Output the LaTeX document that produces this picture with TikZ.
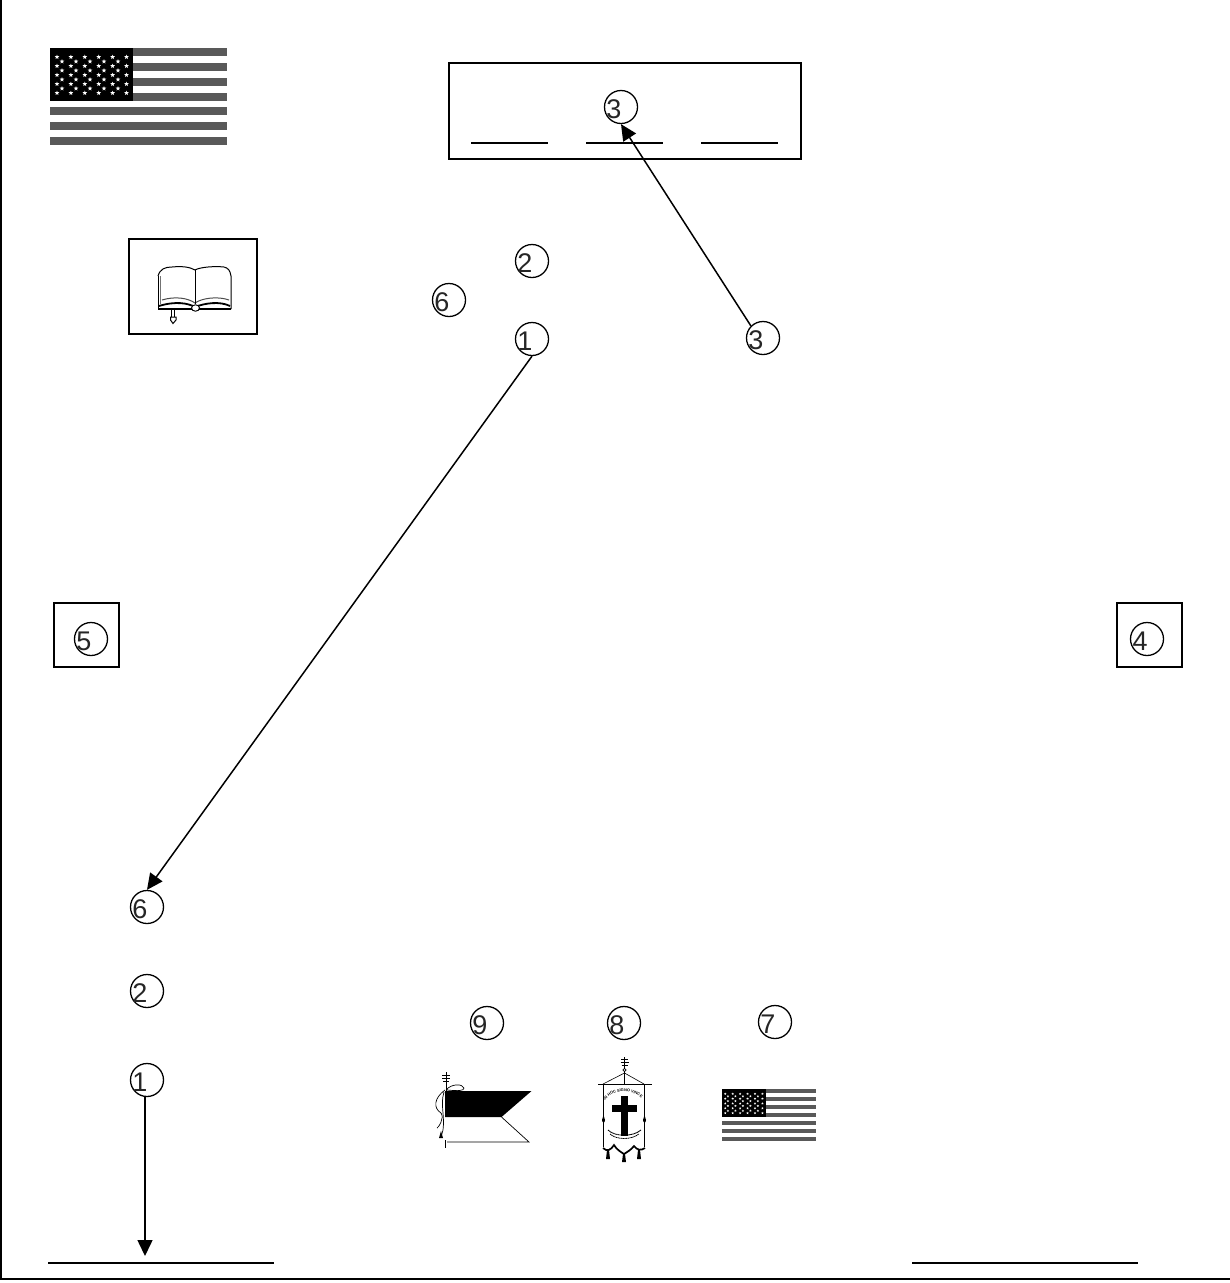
\documentclass[tikz,border=0pt]{standalone}
\usepackage{fontspec}
\setmainfont{Liberation Sans}
\usetikzlibrary{arrows.meta,decorations.text}
\tikzset{
  x=1pt,y=-1pt,
  rule/.style={line width=1.7pt,black},
  box/.style={draw=black,line width=1.8pt,fill=none},
  callout/.style={circle,draw=black,line width=1.3pt,minimum size=33pt,inner sep=0pt,fill=none},
  digit/.style={font=\fontsize{27}{27}\selectfont,inner sep=0pt,text=black!85},
  conn/.style={line width=1.5pt,black,-{Triangle[length=16pt,width=15pt]}},
  stripe/.style={fill=black!65,draw=none},
}
% callout: circle with its digit set to the left of centre
\newcommand{\callout}[4]{%
  \node[callout] (#1) at (#2,#3) {};
  \node[digit] (#1d) at (#2-7,#3+2) {#4};
}
% a small five-pointed star
\newcommand{\flagstar}[2]{%
  \fill[white] (#1,#2-2.4) -- (#1+0.6,#2-0.8) -- (#1+2.3,#2-0.8) -- (#1+1,#2+0.3) -- (#1+1.4,#2+2)
    -- (#1,#2+1) -- (#1-1.4,#2+2) -- (#1-1,#2+0.3) -- (#1-2.3,#2-0.8) -- (#1-0.6,#2-0.8) -- cycle;
}
% US flag, drawn in a 177 x 97 box with the origin at top left
\newcommand{\usflag}[3]{%
  \begin{scope}[shift={(#1,#2)},scale=#3]
    \foreach \yy in {0,15,30,45,59,74,89}{
      \fill[stripe] (0,\yy) rectangle (177,\yy+8);
    }
    \fill[black] (0,0) rectangle (83,53);
    \foreach \row in {0,...,8}{
      \pgfmathtruncatemacro{\odd}{mod(\row,2)}
      \pgfmathsetmacro{\sy}{9+\row*4.5}
      \ifnum\odd=0
        \foreach \k in {0,...,5}{
          \pgfmathsetmacro{\sx}{7+\k*13.9}
          \flagstar{\sx}{\sy}
        }
      \else
        \foreach \k in {0,...,4}{
          \pgfmathsetmacro{\sx}{12+\k*14}
          \flagstar{\sx}{\sy}
        }
      \fi
    }
  \end{scope}
}
\begin{document}
\begin{tikzpicture}
\useasboundingbox (0,0) rectangle (1230,1283);
\fill[white] (0,0) rectangle (1230,1283);
% page frame
\coordinate (ftl) at (1,0);
\coordinate (fbl) at (1,1278.5);
\coordinate (fbr) at (1230,1278.5);
\draw[line width=2pt] (ftl) -- (fbl) -- (fbr);
% flags
\usflag{50}{48}{1}
\usflag{721.5}{1089}{0.535}
% title box
\node[box,minimum width=352pt,minimum height=96pt,inner sep=0pt] (titlebox) at (625,111) {};
\coordinate (a1) at (471,143); \coordinate (a2) at (548,143);
\coordinate (b1) at (586,143); \coordinate (b2) at (663,143);
\coordinate (c1) at (701,143); \coordinate (c2) at (778,143);
\draw[rule] (a1) -- (a2); \draw[rule] (b1) -- (b2); \draw[rule] (c1) -- (c2);
% book box
\node[box,minimum width=128pt,minimum height=95pt,inner sep=0pt] (bookbox) at (193,286.5) {};
\begin{scope}[line width=1pt,black]
  \draw (158,276) .. controls (160,269) and (165,267) .. (172,267)
        .. controls (182,266) and (190,267) .. (195,270)
        .. controls (200,267) and (215,266) .. (224,267)
        .. controls (228,268) and (230,270) .. (231,276) -- (231,309);
  \draw (158,276) -- (158,309);
  \draw[line width=1.6pt] (158,309) -- (231,309);
  \draw[black!55] (160,276) -- (160,304);
  \draw[black!70] (162,300) .. controls (175,296) and (188,298) .. (195,303)
        .. controls (202,298) and (218,296) .. (229,300);
  \draw (195,270) -- (195,304);
  \draw[line width=1.8pt] (159,306) .. controls (175,301) and (188,303) .. (195,307)
        .. controls (205,303) and (220,301) .. (230,306);
  \draw[fill=white] (195.5,308) ellipse[x radius=4,y radius=3.2];
  \draw (171.5,308) -- (171.5,317) (174.5,308) -- (174.5,317);
  \draw[fill=white] (170.5,317) -- (176,317) -- (176,320) -- (173,323.5) -- (170.5,320) -- cycle;
\end{scope}
% small side boxes
\node[box,minimum width=65pt,minimum height=64pt,inner sep=0pt] (leftbox) at (86.5,635) {};
\node[box,minimum width=65pt,minimum height=64pt,inner sep=0pt] (rightbox) at (1149.5,635) {};
% callouts
\callout{ca}{621}{107}{3}
\callout{cb}{532}{261}{2}
\callout{cc}{449}{300}{6}
\callout{cd}{532}{339}{1}
\callout{ce}{763}{338}{3}
\callout{cf}{91}{639}{5}
\callout{cg}{1147}{639}{4}
\callout{ch}{147}{907}{6}
\callout{ci}{147}{991}{2}
\callout{cj}{147}{1080}{1}
\callout{ck}{487}{1023}{9}
\callout{cl}{624}{1023}{8}
\callout{cm}{775}{1022}{7}
% bottom rules
\coordinate (l1) at (48,1263); \coordinate (l2) at (274,1263);
\coordinate (r1) at (912,1263); \coordinate (r2) at (1138,1263);
\draw[rule] (l1) -- (l2); \draw[rule] (r1) -- (r2);
\coordinate (target) at (145,1256);
% connectors
\draw[conn] (ce.north west) -- (ca.south);
\draw[conn] (cd.south) -- (ch.north);
\draw[conn] (cj.south -| target) -- (target);
% pennant
\fill[black] (445,1091) -- (531.5,1091) -- (501.5,1117) -- (445,1117) -- cycle;
\begin{scope}[line width=0.7pt,black]
  \draw (501.5,1117) -- (529,1142) -- (447,1142);
  \draw[line width=1.5pt] (445.5,1140) -- (445.5,1148);
  \draw (446,1072) -- (446,1091);
  \draw (442,1075) -- (450,1075) (442,1078) -- (450,1078) (443,1081) -- (449,1081);
  \draw (446,1090) .. controls (452,1083) and (463,1084) .. (464,1088) .. controls (464,1091) and (458,1091) .. (447,1090);
  \draw (445,1090) .. controls (434,1098) and (433,1108) .. (441,1113) .. controls (445,1118) and (438,1128) .. (437,1128);
  \draw (444,1092) .. controls (440,1105) and (445,1115) .. (443,1130) -- (441,1137);
  \fill (439,1138) -- (441,1131) -- (443,1138) -- cycle;
\end{scope}
% banner
\begin{scope}[line width=0.6pt,black]
  \draw[line width=1pt] (624.5,1057) -- (624.5,1084);
  \draw[line width=0.9pt] (621,1059) -- (628,1059) (620.5,1062) -- (628.5,1062) (621.5,1065) -- (627.5,1065);
  \draw[fill=white] (624.5,1070) circle[radius=1.6];
  \draw (603,1084) -- (624.5,1073) -- (644,1084);
  \draw[line width=1.4pt] (598,1084.5) -- (651.5,1084.5);
  \draw (603.5,1085) -- (603.5,1147) (644.5,1085) -- (644.5,1147);
  \fill (602,1120) -- (603.5,1115) -- (605,1120) -- (604.5,1122) -- (602.5,1122) -- cycle;
  \fill (643,1120) -- (644.5,1115) -- (646,1120) -- (645.5,1122) -- (643.5,1122) -- cycle;
  \fill (620.7,1096) rectangle (627.7,1136);
  \fill (612,1105) rectangle (636.5,1112);
  \path[decorate,decoration={text along path,text align=center,raise=0pt,
        text={|\fontsize{3.9}{4}\selectfont\bfseries|IN HOC SIGNO VINCES}}]
        (606,1099) .. controls (614,1089) and (634,1089) .. (642,1099);
  \draw[dash pattern=on 1.2pt off 0.4pt,line width=0.9pt] (608,1130) .. controls (615,1137) and (633,1137) .. (641,1130);
  \draw[dash pattern=on 1.2pt off 0.5pt,line width=0.8pt] (610,1134) .. controls (617,1140) and (631,1140) .. (639,1134);
  \draw[line width=1.7pt] (603,1148) .. controls (607,1152) and (611,1150) .. (614,1145)
        .. controls (617,1150) and (621,1152) .. (624,1154)
        .. controls (627,1152) and (631,1150) .. (634,1146)
        .. controls (637,1150) and (641,1151) .. (645,1148);
  \fill (607,1150) -- (609,1150) -- (610,1159) -- (606,1159) -- cycle;
  \fill (623,1154) -- (625,1154) -- (626,1162) -- (622,1162) -- cycle;
  \fill (638,1150) -- (640,1150) -- (641,1159) -- (637,1159) -- cycle;
\end{scope}
\end{tikzpicture}
\end{document}
